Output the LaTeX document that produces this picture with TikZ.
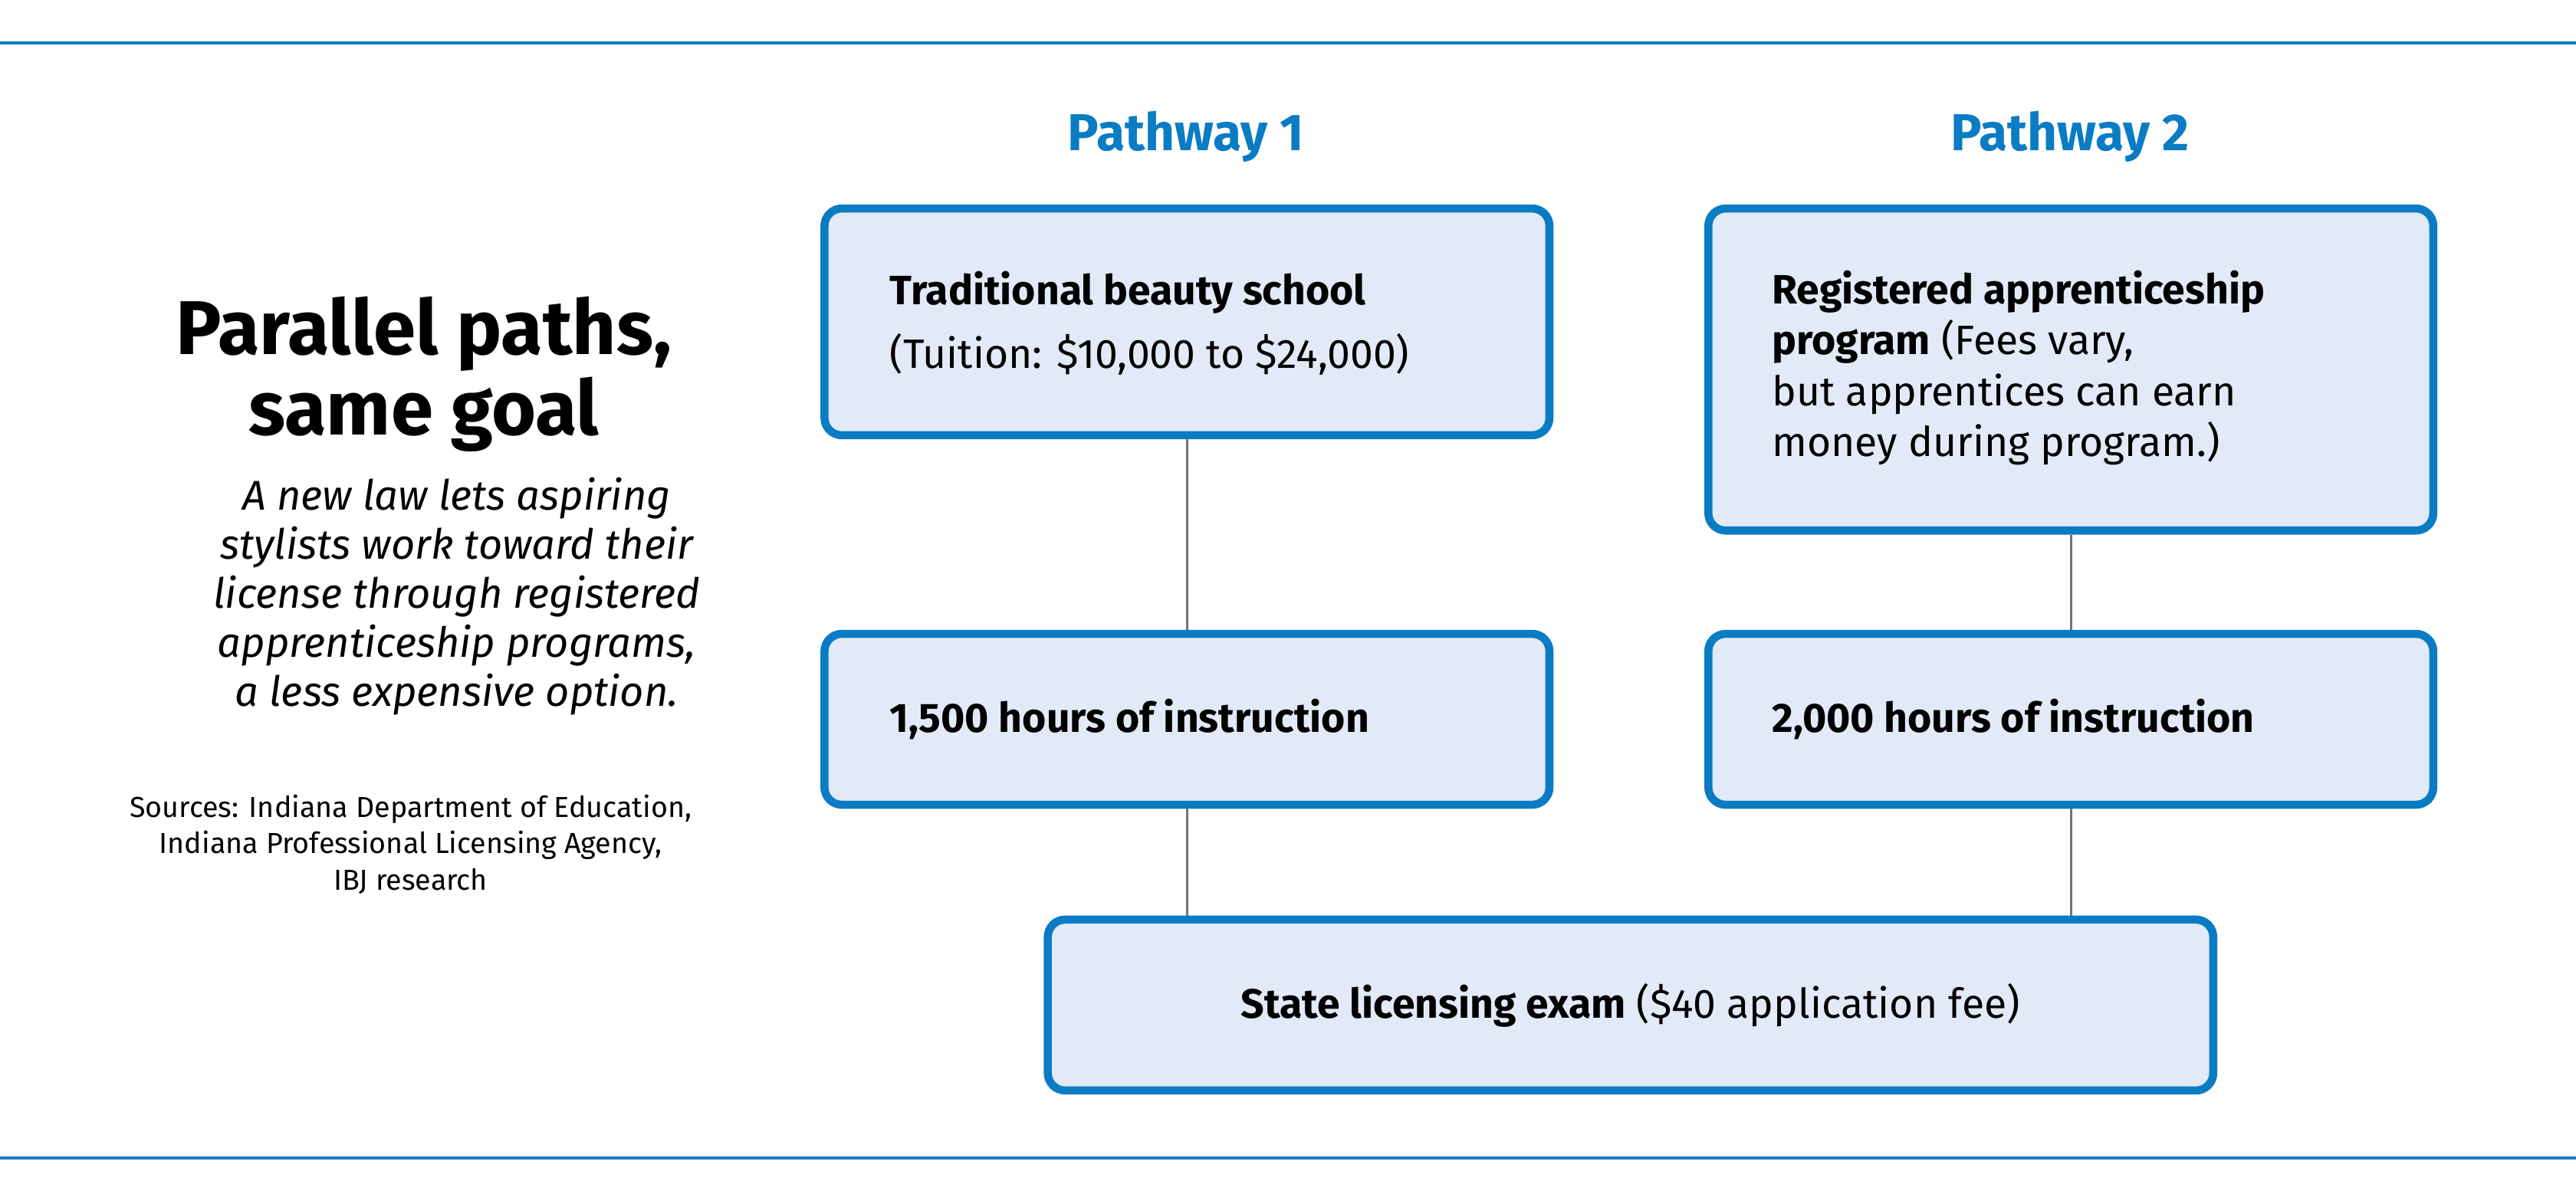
\documentclass[tikz,border=0pt]{standalone}
\usepackage{fontspec}
\setmainfont{Fira Sans}
\usetikzlibrary{positioning}
\definecolor{ibjblue}{HTML}{0A7CC4}
\definecolor{boxfill}{HTML}{E1EAF6}
\newcommand{\boxfont}{\fontsize{7.1pt}{8.8pt}\selectfont}
\begin{document}
\begin{tikzpicture}[x=0.01cm,y=-0.01cm,
    stepbox/.style={draw=ibjblue, fill=boxfill, line width=1.4pt, rounded corners=3pt, minimum width=4.41cm, font=\boxfont},
    boxtext/.style={anchor=west, align=left, inner sep=0pt, font=\boxfont},
    link/.style={draw=black!55, line width=0.4pt},
    head/.style={text=ibjblue, font=\fontsize{9pt}{10pt}\selectfont\bfseries}]
    \useasboundingbox (0,0) rectangle (1568,727);
    \draw[ibjblue, line width=0.5pt] (0,26) -- (1568,26);
    \draw[ibjblue, line width=0.5pt] (0,705) -- (1568,705);

    % left column
    \node (title) at (258,228) [align=center, font=\fontsize{13.2pt}{12.8pt}\selectfont\bfseries] {Parallel paths,\\same goal};
    \node (dek) at (278,363) [align=center, font=\fontsize{7.2pt}{8.5pt}\selectfont\itshape] {A new law lets aspiring\\stylists work toward their\\license through registered\\apprenticeship programs,\\a less expensive option.};
    \node (src) at (250,514) [align=center, font=\fontsize{5pt}{6.3pt}\selectfont] {Sources: Indiana Department of Education,\\Indiana Professional Licensing Agency,\\IBJ research};

    % headings
    \node[head] (p1) at (722,83) {Pathway 1};
    \node[head] (p2) at (1260,83) {Pathway 2};

    % boxes
    \node[stepbox, minimum height=1.38cm] (school) at (722.5,196) {};
    \node[stepbox, minimum height=1.96cm] (appr) at (1260.5,225) {};
    \node[stepbox, minimum height=1.04cm] (hrs1) at (722.5,438) {};
    \node[stepbox, minimum height=1.04cm] (hrs2) at (1260.5,438) {};
    \node[stepbox, minimum width=7.09cm, minimum height=1.04cm] (exam) at (992.5,612) {\textbf{State licensing exam} (\$40 application fee)};

    % box texts
    \node[boxtext] (schooltxt) at (541,197) {\textbf{Traditional beauty school}\\[2.2pt](Tuition: \$10,000 to \$24,000)};
    \node[boxtext] (apprtxt) at (1078,224) {\textbf{Registered apprenticeship}\\\textbf{program} (Fees vary,\\but apprentices can earn\\money during program.)};
    \node[boxtext] (hrs1txt) at (541,438) {\textbf{1,500 hours of instruction}};
    \node[boxtext] (hrs2txt) at (1078,438) {\textbf{2,000 hours of instruction}};

    % connectors
    \draw[link] (school) -- (hrs1);
    \draw[link] (appr) -- (hrs2);
    \draw[link] (hrs1.south) -- (hrs1.south |- exam.north);
    \draw[link] (hrs2.south) -- (hrs2.south |- exam.north);
\end{tikzpicture}
\end{document}
